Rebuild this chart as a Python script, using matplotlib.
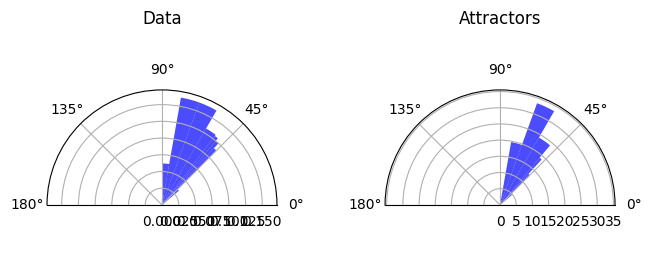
import numpy as np
import matplotlib
matplotlib.use("Agg")
import matplotlib.pyplot as plt

# bin edges in degrees (variable width) and bar heights
data_edges_deg = [40.0, 45.0, 47.5, 50.0, 52.5, 60.0, 70.0, 80.0, 90.0, 92.5]
data_heights = [0.033, 0.115, 0.125, 0.130, 0.132, 0.163, 0.163, 0.062, 0.008]
data_rticks = [0.0, 0.025, 0.05, 0.075, 0.1, 0.125, 0.15]
data_rmax = 0.172

attr_edges_deg = [40.0, 45.0, 47.5, 50.0, 60.0, 70.0, 80.0]
attr_heights = [5.0, 13.0, 19.0, 24.0, 33.4, 19.7]
attr_rticks = [0, 5, 10, 15, 20, 25, 30, 35]
attr_rmax = 35.5

titles = ["Data", "Attractors"]

fig, axes = plt.subplots(1, 2, figsize=(6.52, 2.73), dpi=100,
                         subplot_kw=dict(projection="polar"))
fig.subplots_adjust(left=0.0721, right=0.9433, bottom=0.035, top=0.885, wspace=0.47)

for ax, edges, heights, rticks, rmax, title in zip(
        axes,
        [data_edges_deg, attr_edges_deg],
        [data_heights, attr_heights],
        [data_rticks, attr_rticks],
        [data_rmax, attr_rmax], titles):
    edges_rad = np.deg2rad(edges)
    ax.bar(edges_rad[:-1], heights, width=np.diff(edges_rad),
           align="edge", color="blue", alpha=0.7)
    ax.set_thetamin(0)
    ax.set_thetamax(180)
    ax.set_ylim(0, rmax)
    ax.set_rticks(rticks)
    ax.set_title(title)

fig.savefig("out.png", dpi=100)
